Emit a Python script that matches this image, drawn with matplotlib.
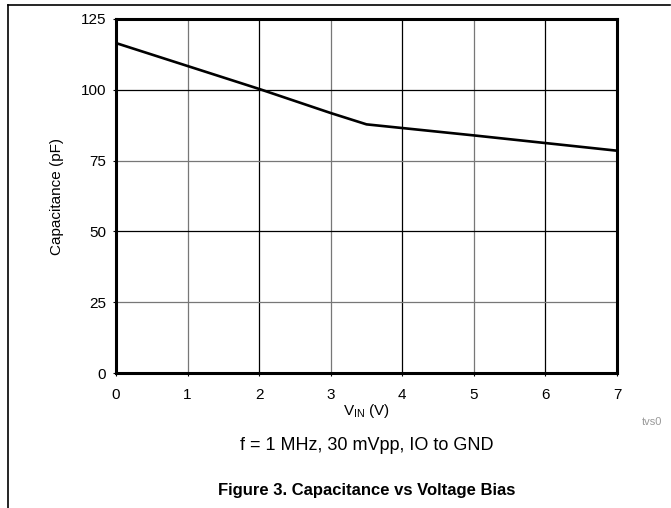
import matplotlib
matplotlib.use('Agg')
import matplotlib.pyplot as plt
from matplotlib.lines import Line2D

plt.rcParams['font.family'] = ['Liberation Sans', 'DejaVu Sans']
plt.rcParams['mathtext.fontset'] = 'custom'
plt.rcParams['mathtext.rm'] = 'Liberation Sans'

# 数据
vin = [0, 1, 2, 3, 3.5, 4, 5, 6, 7]
cap = [116.5, 108.4, 100.3, 91.8, 87.8, 86.5, 83.9, 81.2, 78.5]
x_ticks = [0, 1, 2, 3, 4, 5, 6, 7]
y_ticks = [0, 25, 50, 75, 100, 125]

fig = plt.figure(figsize=(6.71, 5.08), dpi=100)
ax = fig.add_axes([0.1729, 0.2657, 0.7466, 0.6969])

# 网格线 (深浅交替)
for i, x in enumerate(x_ticks[1:-1]):
    ax.axvline(x, color='#000000' if i % 2 else '#777777', lw=0.9, zorder=1)
for i, y in enumerate(y_ticks[1:-1]):
    ax.axhline(y, color='#777777' if i % 2 == 0 else '#000000', lw=0.9, zorder=1)

ax.plot(vin, cap, color='black', lw=1.9, zorder=3)

ax.set_xlim(0, 7)
ax.set_ylim(0, 125)
ax.set_xticks(x_ticks)
ax.set_yticks(y_ticks)
ax.tick_params(axis='both', labelsize=11, length=2, width=0.8, direction='out')
ax.tick_params(axis='x', pad=9)
ax.tick_params(axis='y', pad=5)
for s in ax.spines.values():
    s.set_linewidth(2.2)
    s.set_zorder(4)

ax.set_ylabel('Capacitance (pF)', fontsize=11, labelpad=12)
ax.set_xlabel(r'V$_{\mathrm{IN}}$ (V)', fontsize=11, labelpad=0)

fig.text(0.972, 0.169, 'tvs0', fontsize=8, color='#999999', ha='center', va='center')
fig.text(0.547, 0.124, 'f = 1 MHz, 30 mVpp, IO to GND', fontsize=13, ha='center', va='center')
fig.text(0.547, 0.035, 'Figure 3. Capacitance vs Voltage Bias', fontsize=12,
         fontweight='bold', ha='center', va='center')

# 外框
fig.add_artist(Line2D([0.012, 0.999], [0.990, 0.990], color='black', lw=1.2))
fig.add_artist(Line2D([0.012, 0.012], [0.0, 0.990], color='black', lw=1.2))

plt.savefig('out.png', dpi=100)
